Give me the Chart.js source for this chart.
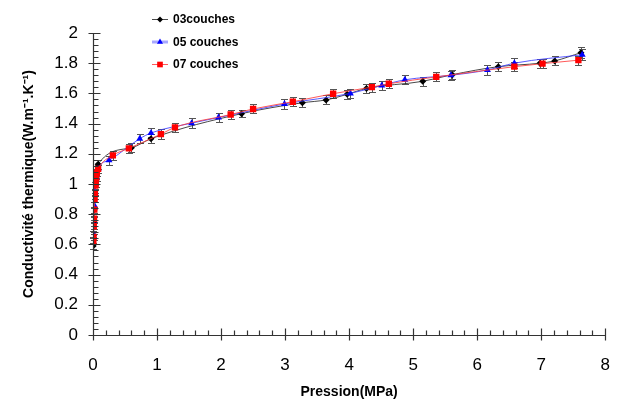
<!DOCTYPE html>
<html>
<head>
<meta charset="utf-8">
<script src="https://cdn.jsdelivr.net/npm/chart.js@4/dist/chart.umd.min.js"></script>
<style>
  body { margin: 0; background: #fff; }
</style>
</head>
<body>
<canvas id="myChart" width="630" height="401"></canvas>
<script>
// values
var names = ['03couches', '05 couches', '07 couches'];

var p03 = [0.003, 0.008, 0.012, 0.02, 0.03, 0.04, 0.05, 0.08, 0.6, 0.906, 2.32, 3.27, 3.64, 3.97, 4.27, 5.15, 5.61, 6.33, 6.98, 7.21, 7.62];
var k03 = [0.59, 0.66, 0.74, 0.83, 0.92, 1.0, 1.06, 1.13, 1.24, 1.30, 1.466, 1.538, 1.557, 1.594, 1.633, 1.68, 1.724, 1.777, 1.80, 1.815, 1.87];
var e03 = [0.02, 0.02, 0.02, 0.02, 0.02, 0.02, 0.025, 0.03, 0.03, 0.03, 0.025, 0.03, 0.03, 0.03, 0.03, 0.03, 0.03, 0.03, 0.03, 0.03, 0.035];

var p05 = [0.005, 0.01, 0.02, 0.03, 0.04, 0.057, 0.08, 0.25, 0.73, 0.906, 1.54, 1.96, 2.99, 4.02, 4.51, 4.87, 5.59, 6.16, 6.58, 7.64];
var k05 = [0.67, 0.76, 0.86, 0.95, 1.0, 1.046, 1.10, 1.157, 1.30, 1.338, 1.403, 1.44, 1.53, 1.60, 1.653, 1.69, 1.72, 1.755, 1.80, 1.856];
var e05 = [0.02, 0.02, 0.02, 0.02, 0.02, 0.025, 0.025, 0.03, 0.03, 0.03, 0.035, 0.03, 0.03, 0.03, 0.03, 0.03, 0.03, 0.03, 0.035, 0.035];

var p07 = [0.005, 0.008, 0.012, 0.016, 0.02, 0.025, 0.03, 0.035, 0.04, 0.05, 0.06, 0.08, 0.31, 0.56, 1.06, 1.28, 2.15, 2.5, 3.12, 3.75, 4.355, 4.62, 5.36, 6.58, 7.02, 7.58];
var k07 = [0.62, 0.65, 0.72, 0.77, 0.83, 0.90, 0.94, 0.99, 1.00, 1.04, 1.075, 1.10, 1.19, 1.236, 1.33, 1.375, 1.46, 1.497, 1.545, 1.598, 1.642, 1.664, 1.709, 1.777, 1.797, 1.82];
var e07 = [0.02, 0.02, 0.02, 0.02, 0.02, 0.02, 0.02, 0.02, 0.02, 0.02, 0.025, 0.025, 0.03, 0.03, 0.035, 0.03, 0.03, 0.03, 0.03, 0.03, 0.03, 0.03, 0.03, 0.03, 0.03, 0.03];

var xTicks = [0, 1, 2, 3, 4, 5, 6, 7, 8];
var yTicks = [0, 0.2, 0.4, 0.6, 0.8, 1, 1.2, 1.4, 1.6, 1.8, 2];

function pts(px, py) {
  var out = [];
  for (var i = 0; i < px.length; i++) out.push({x: px[i], y: py[i]});
  return out;
}

var errs = [e03, e05, e07];

// error bars, under the markers
var errorBars = {
  id: 'errorBars',
  beforeDatasetsDraw: function(chart) {
    var c = chart.ctx;
    var xs = chart.scales.x, ys = chart.scales.y;
    c.save();
    c.strokeStyle = '#555';
    c.lineWidth = 1;
    chart.data.datasets.forEach(function(ds, di) {
      ds.data.forEach(function(pt, i) {
        var e = errs[ds.src][i];
        var x = Math.round(xs.getPixelForValue(pt.x)) + 0.5;
        var y1 = Math.round(ys.getPixelForValue(pt.y + e)) + 0.5;
        var y2 = Math.round(ys.getPixelForValue(pt.y - e)) + 0.5;
        c.beginPath();
        c.moveTo(x, y1); c.lineTo(x, y2);
        c.moveTo(x - 3.5, y1); c.lineTo(x + 3.5, y1);
        c.moveTo(x - 3.5, y2); c.lineTo(x + 3.5, y2);
        c.stroke();
      });
    });
    c.restore();
  }
};

// axis lines with crossing major ticks and inner minor ticks
var axesTicks = {
  id: 'axesTicks',
  afterDraw: function(chart) {
    var c = chart.ctx;
    var xs = chart.scales.x, ys = chart.scales.y;
    var a = chart.chartArea;
    c.save();
    c.strokeStyle = '#333';
    c.lineWidth = 1.2;
    c.beginPath();
    var x0 = Math.round(a.left) + 0.5, y0 = Math.round(a.bottom) + 0.5;
    c.moveTo(x0, a.top); c.lineTo(x0, y0);
    c.lineTo(a.right, y0);
    // x ticks
    for (var i = 0; i <= 40; i++) {
      var x = Math.round(xs.getPixelForValue(i * 0.2)) + 0.5;
      if (i % 5 == 0) { c.moveTo(x, y0 + 5); c.lineTo(x, y0 - 7); }
      else { c.moveTo(x, y0); c.lineTo(x, y0 - 5); }
    }
    // y ticks
    for (var j = 0; j <= 50; j++) {
      var y = Math.round(ys.getPixelForValue(j * 0.04)) + 0.5;
      if (j % 5 == 0) { c.moveTo(x0 - 5, y); c.lineTo(x0 + 7, y); }
      else { c.moveTo(x0, y); c.lineTo(x0 + 5, y); }
    }
    c.stroke();
    c.restore();
  }
};

// legend drawn at the top left
var legendBox = {
  id: 'legendBox',
  afterDraw: function(chart) {
    var c = chart.ctx;
    var rows = [19.5, 42, 64.5];
    var ds = chart.data.datasets;
    var order = [2, 1, 0];
    c.save();
    c.font = 'bold 12px "Liberation Sans", Arial, sans-serif';
    c.textBaseline = 'middle';
    c.fillStyle = '#000';
    for (var r = 0; r < 3; r++) {
      var d = ds[order[r]];
      var y = rows[r];
      c.strokeStyle = r == 1 ? '#a8a8ff' : d.borderColor;
      c.lineWidth = r == 1 ? 3 : 1;
      c.beginPath(); c.moveTo(152, y); c.lineTo(168, y); c.stroke();
      c.fillStyle = d.pointBackgroundColor;
      c.strokeStyle = d.pointBackgroundColor;
      c.lineWidth = 1;
      Chart.helpers.drawPoint(c, {pointStyle: d.pointStyle, radius: d.pointRadius - 0.5, borderWidth: 0}, 160, y);
      c.fillStyle = '#000';
      c.fillText(names[r], 173, y + 0.5);
    }
    c.restore();
  }
};

const ctx = document.getElementById('myChart');

const chart = new Chart(ctx, {
  type: 'line',
  data: {
    datasets: [
      {
        label: names[2], src: 2, data: pts(p07, k07),
        borderColor: 'rgba(255,60,60,0.85)', borderWidth: 1,
        pointStyle: 'rect', pointRadius: 4.5,
        pointBackgroundColor: '#ff0000', pointBorderWidth: 0,
        cubicInterpolationMode: 'monotone'
      },
      {
        label: names[1], src: 1, data: pts(p05, k05),
        borderColor: 'rgba(60,60,255,0.85)', borderWidth: 1,
        pointStyle: 'triangle', pointRadius: 4,
        pointBackgroundColor: '#0000ff', pointBorderWidth: 0,
        cubicInterpolationMode: 'monotone'
      },
      {
        label: names[0], src: 0, data: pts(p03, k03),
        borderColor: 'rgba(40,40,40,0.85)', borderWidth: 1,
        pointStyle: 'rectRot', pointRadius: 3.5,
        pointBackgroundColor: '#000', pointBorderWidth: 0,
        cubicInterpolationMode: 'monotone'
      }
    ]
  },
  options: {
    responsive: false,
    animation: false,
    layout: { padding: { top: 33, right: 19, left: 0, bottom: 0 } },
    plugins: { legend: { display: false }, tooltip: { enabled: false } },
    scales: {
      x: {
        type: 'linear', min: 0, max: 8,
        afterBuildTicks: function(s) { s.ticks = xTicks.map(function(v) { return {value: v}; }); },
        afterFit: function(s) { s.height = 66; },
        ticks: { color: '#000', padding: 20, font: { size: 17, family: '"Liberation Sans", Arial' } },
        grid: { display: false, drawTicks: false },
        border: { display: false },
        title: { display: true, text: 'Pression(MPa)', color: '#000', padding: { top: 1, bottom: 0 },
                 font: { size: 14, weight: 'bold', family: '"Liberation Sans", Arial' } }
      },
      y: {
        min: 0, max: 2,
        afterBuildTicks: function(s) { s.ticks = yTicks.map(function(v) { return {value: v}; }); },
        afterFit: function(s) { s.width = 93; },
        ticks: { color: '#000', padding: 15, font: { size: 17, family: '"Liberation Sans", Arial' },
                 callback: function(v) { return String(Math.round(v * 10) / 10); } },
        grid: { display: false, drawTicks: false },
        border: { display: false },
        title: { display: true, text: 'Conductivité thermique(W.m⁻¹.K⁻¹)', color: '#000', padding: { top: 21, bottom: 0 },
                 font: { size: 14, weight: 'bold', family: '"Liberation Sans", Arial' } }
      }
    }
  },
  plugins: [errorBars, axesTicks, legendBox]
});
</script>
</body>
</html>
